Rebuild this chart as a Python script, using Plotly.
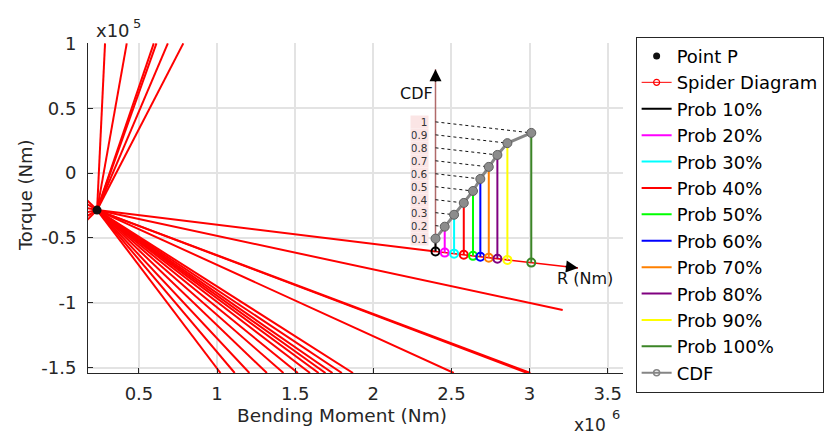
import plotly.graph_objects as go

# ---------------- data (x in units of 1e6 Nm, y in units of 1e5 Nm) ----------------
XS = 1e6
YS = 1e5

P_x = 0.232
P_y = -0.285

# spider rays leaving point P (end points)
up_end_x = [0.283, 0.422, 0.595, 0.612, 0.685, 0.784]
up_end_y = [1.0, 1.0, 1.0, 1.0, 1.0, 1.0]
steep_end_x = [1.022, 1.113, 1.207, 1.319, 1.425, 1.517, 1.595, 1.650, 1.694, 1.739, 1.799, 1.870]
steep_end_y = [-1.541] * 12
mid_end_x = [2.515, 2.985, 3.005, 3.212]
mid_end_y = [-1.541, -1.541, -1.541, -1.056]
tail_end_x = [0.17, 0.17, 0.17, 0.17, 0.17, 0.17]
tail_end_y = [-0.21, -0.24, -0.27, -0.30, -0.33, -0.36]

# inset: R axis points and CDF
prob_labels = ["Prob 10%", "Prob 20%", "Prob 30%", "Prob 40%", "Prob 50%",
               "Prob 60%", "Prob 70%", "Prob 80%", "Prob 90%", "Prob 100%"]
prob_colors = ["#000000", "#ff00ff", "#00ffff", "#ff0000", "#00ff00",
               "#0000ff", "#ff8000", "#800080", "#ffff00", "#3b8526"]
R_x = [2.398, 2.457, 2.517, 2.579, 2.638, 2.685, 2.739, 2.794, 2.858, 3.011]
R_y = [-0.605, -0.613, -0.621, -0.630, -0.638, -0.645, -0.652, -0.660, -0.669, -0.690]
cdf = [0.1, 0.2, 0.3, 0.4, 0.5, 0.6, 0.7, 0.8, 0.9, 1.0]
cdf_tick_text = ["0.1", "0.2", "0.3", "0.4", "0.5", "0.6", "0.7", "0.8", "0.9", "1"]
CDF_SCALE = 1.0          # one CDF unit = 1e5 Nm on the torque axis
R_tip = (3.31, -0.731)
CDF_tip_y = 0.80
cdf_label_x = 2.358

x_tick_vals = [0.5, 1.0, 1.5, 2.0, 2.5, 3.0, 3.5]
x_tick_text = ["0.5", "1", "1.5", "2", "2.5", "3", "3.5"]
y_tick_vals = [-1.5, -1.0, -0.5, 0.0, 0.5, 1.0]
y_tick_text = ["-1.5", "-1", "-0.5", "0", "0.5", "1"]

FONT = "DejaVu Sans"
fig = go.Figure()

# ---------------- spider rays ----------------
rx, ry = [], []
for ex, ey in zip(up_end_x + steep_end_x + mid_end_x + tail_end_x + [R_x[0]],
                  up_end_y + steep_end_y + mid_end_y + tail_end_y + [R_y[0]]):
    rx += [P_x * XS, ex * XS, None]
    ry += [P_y * YS, ey * YS, None]
fig.add_trace(go.Scatter(x=rx, y=ry, mode="lines", line=dict(color="#ff0000", width=2),
                         showlegend=False, hoverinfo="skip"))

# point P
fig.add_trace(go.Scatter(x=[P_x * XS], y=[P_y * YS], mode="markers",
                         marker=dict(color="#111111", size=9), showlegend=False))

# CDF axis (vertical) and R axis (along the ray)
fig.add_trace(go.Scatter(x=[R_x[0] * XS, R_x[0] * XS], y=[R_y[0] * YS, CDF_tip_y * YS],
                         mode="lines", line=dict(color="#b06a6a", width=1.5),
                         showlegend=False, hoverinfo="skip"))
fig.add_trace(go.Scatter(x=[R_x[0] * XS, R_tip[0] * XS], y=[R_y[0] * YS, R_tip[1] * YS],
                         mode="lines", line=dict(color="#ff0000", width=1.5),
                         showlegend=False, hoverinfo="skip"))

# dashed projection lines
dx, dy = [], []
for k in range(1, len(cdf)):
    dx += [R_x[0] * XS, R_x[k] * XS, None]
    dy += [(R_y[0] + cdf[k] * CDF_SCALE) * YS, (R_y[k] + cdf[k] * CDF_SCALE) * YS, None]
fig.add_trace(go.Scatter(x=dx, y=dy, mode="lines",
                         line=dict(color="#111111", width=1, dash="3px,3px"),
                         showlegend=False, hoverinfo="skip"))

# legend-only entries (ranked)
fig.add_trace(go.Scatter(x=[None], y=[None], mode="markers", name="Point P",
                         marker=dict(color="#111111", size=7), legendrank=1))
fig.add_trace(go.Scatter(x=[None], y=[None], mode="lines+markers", name="Spider Diagram",
                         line=dict(color="#ff0000", width=1),
                         marker=dict(symbol="circle-open", color="#ff0000", size=6,
                                     line=dict(width=1.2)), legendrank=2))

# probability lines
for k in range(len(cdf)):
    fig.add_trace(go.Scatter(x=[R_x[k] * XS, R_x[k] * XS],
                             y=[R_y[k] * YS, (R_y[k] + cdf[k] * CDF_SCALE) * YS],
                             mode="lines", name=prob_labels[k],
                             line=dict(color=prob_colors[k], width=2), legendrank=3 + k))

# circles on R axis
fig.add_trace(go.Scatter(x=[v * XS for v in R_x], y=[v * YS for v in R_y], mode="markers",
                         marker=dict(symbol="circle-open", size=8, color=prob_colors,
                                     line=dict(width=2)),
                         showlegend=False, hoverinfo="skip"))

# CDF curve
fig.add_trace(go.Scatter(x=[v * XS for v in R_x],
                         y=[(R_y[k] + cdf[k] * CDF_SCALE) * YS for k in range(len(cdf))],
                         mode="lines+markers", line=dict(color="#858585", width=3),
                         marker=dict(symbol="circle", size=9, color="#8c8c8c",
                                     line=dict(color="#5f5f5f", width=1)),
                         showlegend=False, hoverinfo="skip"))
fig.add_trace(go.Scatter(x=[None], y=[None], mode="lines+markers", name="CDF",
                         line=dict(color="#858585", width=2),
                         marker=dict(symbol="circle-open", color="#858585", size=6,
                                     line=dict(width=1.5)), legendrank=20))

# ---------------- annotations ----------------
ann = []
# arrow heads
ann.append(dict(x=R_tip[0] * XS, y=R_tip[1] * YS, xref="x", yref="y", ax=-14, ay=-1.6,
                showarrow=True, arrowhead=2, arrowsize=1.6, arrowwidth=1.5,
                arrowcolor="#000000", text=""))
ann.append(dict(x=R_x[0] * XS, y=CDF_tip_y * YS, xref="x", yref="y", ax=0, ay=14,
                showarrow=True, arrowhead=2, arrowsize=1.6, arrowwidth=1.5,
                arrowcolor="#000000", text=""))
# inset labels
ann.append(dict(x=2.276 * XS, y=0.616 * YS, xref="x", yref="y", text="CDF", showarrow=False,
                xanchor="center", yanchor="middle",
                font=dict(family=FONT, size=16, color="#111111")))
ann.append(dict(x=3.355 * XS, y=-0.814 * YS, xref="x", yref="y", text="R (Nm)", showarrow=False,
                xanchor="center", yanchor="middle",
                font=dict(family=FONT, size=16, color="#111111")))
for k in range(len(cdf)):
    ann.append(dict(x=cdf_label_x * XS, y=(R_y[0] + cdf[k] * CDF_SCALE) * YS, xref="x", yref="y",
                    text=cdf_tick_text[k], showarrow=False, xanchor="right", yanchor="middle",
                    width=16, height=11, align="right", borderpad=0.5, bgcolor="#fbe5e5",
                    font=dict(family=FONT, size=10.5, color="#333333")))
# axis titles and multipliers
def paper_text(x, y, text, size, angle=0):
    return dict(x=x, y=y, xref="paper", yref="paper", text=text, showarrow=False,
                xanchor="center", yanchor="middle", textangle=angle,
                font=dict(family=FONT, size=size, color="#262626"))

ann.append(paper_text(0.4748, -0.1303, "Bending Moment (Nm)", 18.5))
ann.append(paper_text(-0.1178, 0.539, "Torque (Nm)", 18, -90))
ann.append(paper_text(0.0458, 1.0364, "x10", 18))
ann.append(paper_text(0.0925, 1.059, "5", 13))
ann.append(paper_text(0.938, -0.158, "x10", 17))
ann.append(paper_text(0.986, -0.127, "6", 13))

fig.update_layout(
    width=838, height=437,
    margin=dict(l=88, r=215, t=43, b=64),
    plot_bgcolor="white", paper_bgcolor="white",
    font=dict(family=FONT, color="#262626"),
    annotations=ann,
    legend=dict(x=1.0236, y=1.019, xanchor="left", yanchor="top",
                bordercolor="#262626", borderwidth=1, bgcolor="white",
                font=dict(family=FONT, size=18, color="#000000"),
                tracegroupgap=0, itemwidth=30, maxheight=420),
    xaxis=dict(range=[0.174 * XS, 3.598 * XS], tickvals=[v * XS for v in x_tick_vals],
               ticktext=x_tick_text, ticks="inside", ticklen=5, tickcolor="#262626",
               showline=True, linecolor="#262626", linewidth=1, showgrid=True,
               gridcolor="#e3e3e3", gridwidth=1.5, zeroline=False,
               tickfont=dict(family=FONT, size=18, color="#262626"), ticklabelstandoff=4),
    yaxis=dict(range=[-1.541 * YS, 1.003 * YS], tickvals=[v * YS for v in y_tick_vals],
               ticktext=y_tick_text, ticks="inside", ticklen=5, tickcolor="#262626",
               showline=True, linecolor="#262626", linewidth=1, showgrid=True,
               gridcolor="#e3e3e3", gridwidth=1.5, zeroline=False,
               tickfont=dict(family=FONT, size=18, color="#262626"), ticklabelstandoff=7),
)

fig.write_html("out.html")
